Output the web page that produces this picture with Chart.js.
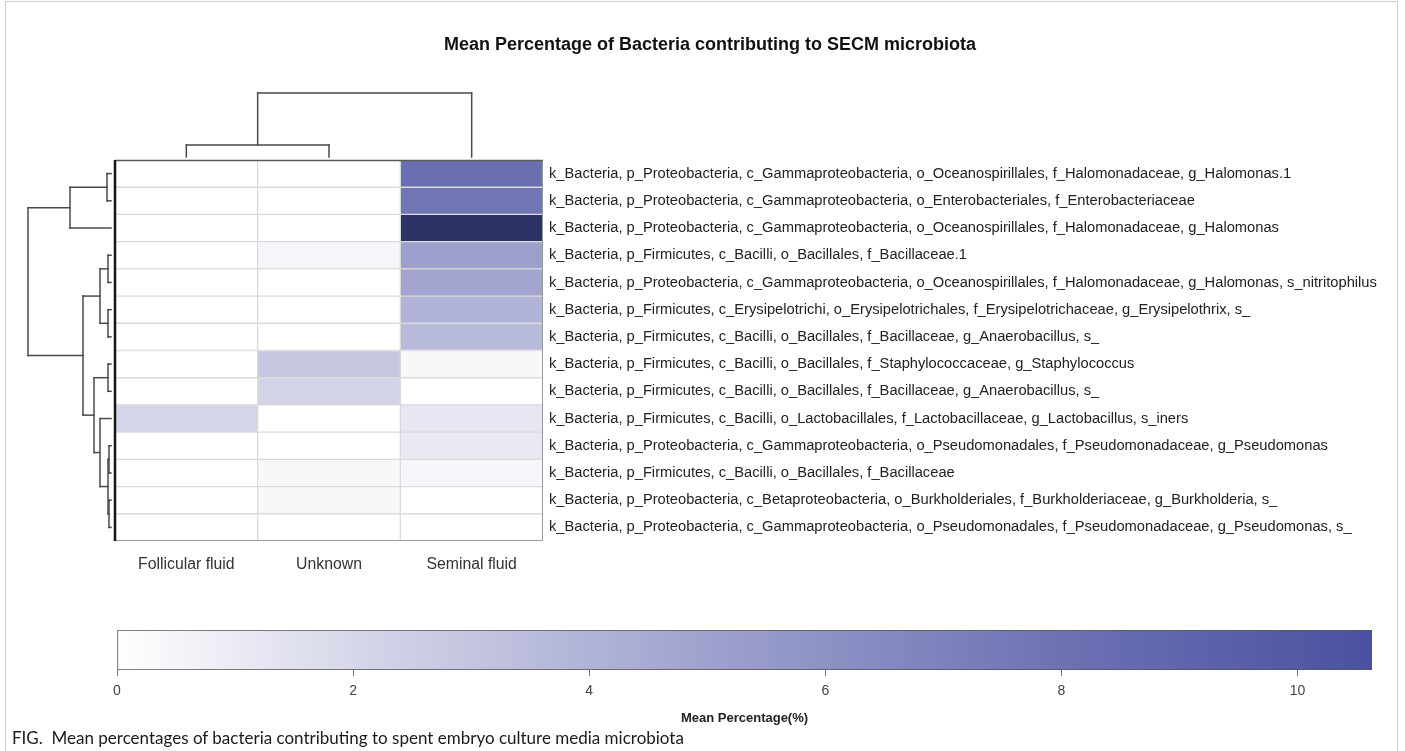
<!DOCTYPE html>
<html>
<head>
<meta charset="utf-8">
<script src="https://cdn.jsdelivr.net/npm/chart.js@4.4.1/dist/chart.umd.min.js"></script>
<style>
  html, body { margin: 0; padding: 0; background: #fff; }
  body { width: 1405px; height: 751px; overflow: hidden; position: relative; }
  #frame { position: absolute; left: 5px; top: 1px; width: 1393px; height: 800px; border: 1px solid #cfcfcf; box-sizing: border-box; }
  #heat { position: absolute; left: 0; top: 0; }
  #scale { position: absolute; left: 0; top: 600px; }
  #caption { position: absolute; left: 12px; top: 727px; font: 17px Lato, "Open Sans", sans-serif; color: #1a1a1a; white-space: nowrap; }
</style>
</head>
<body>
<div id="frame"></div>
<canvas id="heat" width="1405" height="600"></canvas>
<canvas id="scale" width="1405" height="135"></canvas>
<div id="caption">FIG.&nbsp; Mean percentages of bacteria contributing to spent embryo culture media microbiota</div>
<script>
// Sample groups (heatmap columns)
const COLUMNS = ['Follicular fluid', 'Unknown', 'Seminal fluid'];

// Taxa (heatmap rows, top to bottom in dendrogram order)
const TAXA = [
  'k_Bacteria, p_Proteobacteria, c_Gammaproteobacteria, o_Oceanospirillales, f_Halomonadaceae, g_Halomonas.1',
  'k_Bacteria, p_Proteobacteria, c_Gammaproteobacteria, o_Enterobacteriales, f_Enterobacteriaceae',
  'k_Bacteria, p_Proteobacteria, c_Gammaproteobacteria, o_Oceanospirillales, f_Halomonadaceae, g_Halomonas',
  'k_Bacteria, p_Firmicutes, c_Bacilli, o_Bacillales, f_Bacillaceae.1',
  'k_Bacteria, p_Proteobacteria, c_Gammaproteobacteria, o_Oceanospirillales, f_Halomonadaceae, g_Halomonas, s_nitritophilus',
  'k_Bacteria, p_Firmicutes, c_Erysipelotrichi, o_Erysipelotrichales, f_Erysipelotrichaceae, g_Erysipelothrix, s_',
  'k_Bacteria, p_Firmicutes, c_Bacilli, o_Bacillales, f_Bacillaceae, g_Anaerobacillus, s_',
  'k_Bacteria, p_Firmicutes, c_Bacilli, o_Bacillales, f_Staphylococcaceae, g_Staphylococcus',
  'k_Bacteria, p_Firmicutes, c_Bacilli, o_Bacillales, f_Bacillaceae, g_Anaerobacillus, s_',
  'k_Bacteria, p_Firmicutes, c_Bacilli, o_Lactobacillales, f_Lactobacillaceae, g_Lactobacillus, s_iners',
  'k_Bacteria, p_Proteobacteria, c_Gammaproteobacteria, o_Pseudomonadales, f_Pseudomonadaceae, g_Pseudomonas',
  'k_Bacteria, p_Firmicutes, c_Bacilli, o_Bacillales, f_Bacillaceae',
  'k_Bacteria, p_Proteobacteria, c_Betaproteobacteria, o_Burkholderiales, f_Burkholderiaceae, g_Burkholderia, s_',
  'k_Bacteria, p_Proteobacteria, c_Gammaproteobacteria, o_Pseudomonadales, f_Pseudomonadaceae, g_Pseudomonas, s_'
];

// Mean percentage (%) per taxon, one array per sample group
const FOLLICULAR = [0, 0, 0, 0, 0, 0, 0, 0, 0, 2.1, 0, 0, 0, 0];
const UNKNOWN    = [0, 0, 0, 0.45, 0, 0, 0, 2.9, 2.2, 0, 0, 0.35, 0.35, 0];
const SEMINAL    = [8.2, 7.8, 13.8, 5.1, 4.8, 4.0, 3.6, 0.35, 0, 1.2, 1.1, 0.5, 0, 0];

// Colour bar range and its tick step
const COLORBAR_MAX = 10.63;
const COLORBAR_STEP = 2;

// Hierarchical clustering: [childA, childB, distance]; new clusters numbered after the leaves
const ROW_LINKAGE = [
  [0, 1, 0.4], [14, 2, 4.1], [3, 4, 0.3], [5, 6, 0.3], [16, 17, 1.1],
  [7, 8, 0.3], [10, 11, 0.2], [12, 13, 0.2], [20, 21, 0.3], [9, 22, 1.1],
  [19, 23, 1.7], [18, 24, 2.8], [15, 25, 8.3]
];
const COL_LINKAGE = [[0, 1, 1.2], [3, 2, 6.4]];

// Colour scale stops [value, colour]
const COLOR_STOPS = [
  [0, '#ffffff'], [2, '#d6d7e9'], [4, '#b1b3d7'], [6, '#8d91c5'],
  [8, '#6d72b4'], [COLORBAR_MAX, '#4a51a0'], [14, '#2c3163']
];

function hexToRgb(h) {
  const n = parseInt(h.slice(1), 16);
  return [(n >> 16) & 255, (n >> 8) & 255, n & 255];
}
function colourFor(v) {
  const s = COLOR_STOPS;
  if (v <= s[0][0]) return s[0][1];
  for (let i = 1; i < s.length; i++) {
    if (v <= s[i][0]) {
      const t = (v - s[i - 1][0]) / (s[i][0] - s[i - 1][0]);
      const a = hexToRgb(s[i - 1][1]), b = hexToRgb(s[i][1]);
      const c = a.map((x, k) => Math.round(x + (b[k] - x) * t));
      return `rgb(${c[0]},${c[1]},${c[2]})`;
    }
  }
  return s[s.length - 1][1];
}

Chart.defaults.font.family = '"Liberation Sans", Arial, Helvetica, sans-serif';
Chart.defaults.color = '#222';

const SERIES = [FOLLICULAR, UNKNOWN, SEMINAL];
const PX_PER_DIST = 10;   // dendrogram branch length in pixels per unit distance
const LEAF_GAP = 4;       // space between dendrogram leaves and the heatmap

function dendrogramSegments(linkage, nLeaves, leafPos, distPos) {
  // leafPos(i) -> pixel along the leaf axis; distPos(d) -> pixel along the distance axis
  const pos = [], hgt = [];
  for (let i = 0; i < nLeaves; i++) { pos[i] = leafPos(i); hgt[i] = 0; }
  const segs = [];
  linkage.forEach(([a, b, d], k) => {
    const id = nLeaves + k;
    pos[id] = (pos[a] + pos[b]) / 2;
    hgt[id] = d;
    segs.push([pos[a], hgt[a], pos[a], d]);
    segs.push([pos[b], hgt[b], pos[b], d]);
    segs.push([pos[a], d, pos[b], d]);
  });
  return segs.map(([p1, d1, p2, d2]) => [p1, distPos(d1), p2, distPos(d2)]);
}

const decorations = {
  id: 'decorations',
  afterDatasetsDraw(chart) {
    const { ctx, chartArea: a, scales } = chart;
    ctx.save();
    // heatmap outline
    ctx.strokeStyle = '#9a9a9a'; ctx.lineWidth = 1;
    ctx.beginPath();
    ctx.moveTo(a.right - 0.5, a.top); ctx.lineTo(a.right - 0.5, a.bottom - 0.5); ctx.lineTo(a.left, a.bottom - 0.5);
    ctx.stroke();
    ctx.strokeStyle = '#5a5a5a'; ctx.lineWidth = 1.5;
    ctx.beginPath(); ctx.moveTo(a.left, a.top + 0.5); ctx.lineTo(a.right, a.top + 0.5); ctx.stroke();
    ctx.strokeStyle = '#151515'; ctx.lineWidth = 2.5;
    ctx.beginPath(); ctx.moveTo(a.left, a.top); ctx.lineTo(a.left, a.bottom); ctx.stroke();

    // dendrograms
    ctx.strokeStyle = '#4a4a4a'; ctx.lineWidth = 1.5; ctx.lineCap = 'square';
    dendrogramSegments(ROW_LINKAGE, TAXA.length,
      i => scales.y.getPixelForValue(i),
      d => a.left - LEAF_GAP - d * PX_PER_DIST
    ).forEach(([p1, x1, p2, x2]) => {
      ctx.beginPath(); ctx.moveTo(x1, p1); ctx.lineTo(x2, p2); ctx.stroke();
    });
    dendrogramSegments(COL_LINKAGE, COLUMNS.length,
      i => scales.x.getPixelForValue(i + 0.5),
      d => a.top - 3 - d * PX_PER_DIST
    ).forEach(([p1, y1, p2, y2]) => {
      ctx.beginPath(); ctx.moveTo(p1, y1); ctx.lineTo(p2, y2); ctx.stroke();
    });

    // figure title
    ctx.fillStyle = '#111';
    ctx.font = 'bold 18px "Liberation Sans", Arial, sans-serif';
    ctx.textAlign = 'center'; ctx.textBaseline = 'middle';
    ctx.fillText('Mean Percentage of Bacteria contributing to SECM microbiota', 710, 45);
    ctx.restore();
  }
};

new Chart(document.getElementById('heat'), {
  type: 'bar',
  data: {
    labels: TAXA,
    datasets: SERIES.map((vals, c) => ({
      label: COLUMNS[c],
      data: vals.map(() => [c, c + 1]),
      backgroundColor: vals.map(colourFor),
      borderColor: '#dadada',
      borderWidth: 1,
      borderSkipped: false,
      barPercentage: 1,
      categoryPercentage: 1,
      grouped: false
    }))
  },
  options: {
    indexAxis: 'y',
    responsive: false,
    animation: false,
    events: [],
    layout: { padding: { left: 115, top: 160, right: 0, bottom: 0 } },
    plugins: { legend: { display: false }, tooltip: { enabled: false }, title: { display: false } },
    scales: {
      x: {
        type: 'linear', min: 0, max: COLUMNS.length,
        grid: { display: false, drawTicks: false },
        border: { display: false },
        afterBuildTicks: s => { s.ticks = COLUMNS.map((_, i) => ({ value: i + 0.5 })); },
        afterFit: s => { s.height = 59; },
        ticks: {
          autoSkip: false, maxRotation: 0, padding: 14,
          font: { size: 15.8 }, color: '#333',
          callback: v => COLUMNS[Math.round(v - 0.5)]
        }
      },
      y: {
        type: 'category', position: 'right',
        grid: { display: false, drawTicks: false },
        border: { display: false },
        afterFit: s => { s.width = 1405 - 543; },
        ticks: { autoSkip: false, padding: 6, font: { size: 14.7 }, color: '#222' }
      }
    }
  },
  plugins: [decorations]
});

// Colour bar
new Chart(document.getElementById('scale'), {
  type: 'bar',
  data: {
    labels: [''],
    datasets: [{
      data: [[0, COLORBAR_MAX]],
      backgroundColor: ctx => {
        const chart = ctx.chart, xs = chart.scales.x;
        if (!chart.chartArea || !xs) return '#ffffff';
        const x0 = xs.getPixelForValue(0), x1 = xs.getPixelForValue(COLORBAR_MAX);
        const g = chart.ctx.createLinearGradient(x0, 0, x1, 0);
        COLOR_STOPS.filter(s => s[0] <= COLORBAR_MAX)
          .forEach(s => g.addColorStop(s[0] / COLORBAR_MAX, colourFor(s[0])));
        return g;
      },
      borderColor: '#555',
      borderWidth: 1,
      borderSkipped: false,
      barPercentage: 1,
      categoryPercentage: 1
    }]
  },
  options: {
    indexAxis: 'y',
    responsive: false,
    animation: false,
    events: [],
    layout: { padding: { left: 117, right: 33, top: 30, bottom: 0 } },
    plugins: { legend: { display: false }, tooltip: { enabled: false } },
    scales: {
      y: { display: false },
      x: {
        type: 'linear', min: 0, max: COLORBAR_MAX,
        grid: { drawOnChartArea: false, drawTicks: true, tickLength: 6, color: '#777' },
        border: { display: false },
        afterFit: s => { s.height = 65; },
        ticks: { stepSize: COLORBAR_STEP, includeBounds: false, padding: 7, font: { size: 14 }, color: '#444' },
        title: {
          display: true, text: 'Mean Percentage(%)',
          font: { size: 13, weight: 'bold' }, color: '#222',
          padding: { top: 4, bottom: 9 }
        }
      }
    }
  }
});
</script>
</body>
</html>
